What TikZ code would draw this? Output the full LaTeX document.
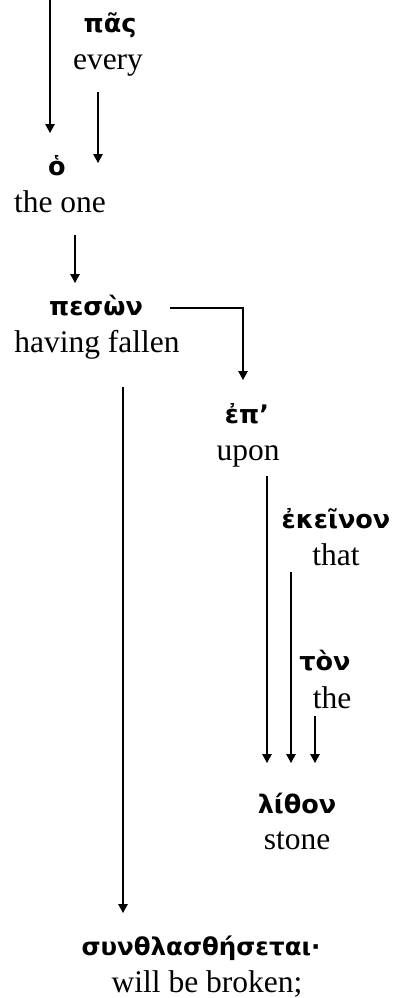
\documentclass[tikz,border=0pt]{standalone}
\usepackage{fontspec}
\setmainfont{Liberation Serif}
\newfontfamily\grk{DejaVu Sans}[BoldFont={DejaVu Sans Bold}]
\usetikzlibrary{arrows.meta,calc}

\tikzset{
  gr/.style={anchor=base, inner sep=0pt, font=\grk\bfseries\fontsize{25.5}{30}\selectfont},
  en/.style={anchor=base, inner sep=0pt, font=\fontsize{31.5}{37}\selectfont},
  arr/.style={line width=1.2pt, -{Triangle[length=9pt,width=9.5pt]}},
  link/.style={line width=1.2pt}
}

\begin{document}
\begin{tikzpicture}[x=1pt, y=-1pt]
\useasboundingbox (0,0) rectangle (394,998);

% words with their glosses
\node[gr] (pas)    at (110,33)  {πᾶς};
\node[en] (every)  at (108,70)  {every};
\node[gr] (ho)     at (57,175)  {ὁ};
\node[en] (theone) at (60,212)  {the one};
\node[gr] (peson)  at (96,315)  {πεσὼν};
\node[en] (having) at (97,352)  {having fallen};
\node[gr] (ep)     at (247,423) {ἐπ’};
\node[en] (upon)   at (248,460) {upon};
\node[gr] (ekeinon) at (336,528) {ἐκεῖνον};
\node[en] (that)   at (336,565) {that};
\node[gr] (ton)    at (325,670) {τὸν};
\node[en] (the)    at (332,708) {the};
\node[gr] (lithon) at (297,813) {λίθον};
\node[en] (stone)  at (297,849) {stone};
\node[gr, font=\grk\bfseries\fontsize{24.5}{30}\selectfont] (syn) at (201,955) {συνθλασθήσεται·};
\node[en] (broken) at (207,992) {will be broken;};

% incoming line from above
\coordinate (top) at (50,0);

% connectors
\draw[arr] (top) -- ($(ho.base)+(-7,-42)$);
\draw[arr] ($(every.base)+(-10,22)$) -- ($(ho.base)+(41,-12)$);
\draw[arr] ($(theone.base)+(15,23)$) -- ($(peson.base)+(-21,-32)$);
\draw[arr] ($(peson.base)+(74,-7)$) -| ($(ep.base)+(-4,-43)$);
\draw[arr] ($(having.base)+(26,35)$) -- ($(syn.base)+(-78,-42)$);
\draw[arr] ($(upon.base)+(19,16)$) -- ($(lithon.base)+(-30,-50)$);
\draw[arr] ($(that.base)+(-45,7)$) -- ($(lithon.base)+(-6,-50)$);
\draw[arr] ($(the.base)+(-17,8)$) -- ($(lithon.base)+(18,-50)$);
\end{tikzpicture}
\end{document}
